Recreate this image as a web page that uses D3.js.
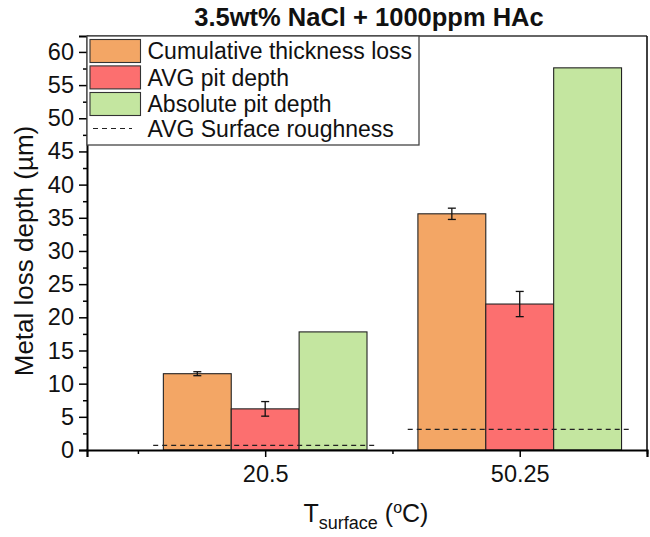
<!DOCTYPE html>
<html>
<head>
<meta charset="utf-8">
<script src="https://cdn.jsdelivr.net/npm/d3@7"></script>
<style>
  html, body { margin: 0; padding: 0; background: #fff; }
  svg { display: block; font-family: "Liberation Sans", Arial, Helvetica, sans-serif; }
</style>
</head>
<body>
<div id="chart"></div>
<script>
// Surface temperatures (categories on the x axis)
const categories = ["20.5", "50.25"];

// Series values (µm)
const cumulativeLoss = [11.5, 35.6];
const cumulativeLossErr = [0.3, 0.85];
const avgPitDepth = [6.2, 22.0];
const avgPitDepthErr = [1.1, 1.9];
const absolutePitDepth = [17.8, 57.6];
const avgRoughness = [0.7, 3.1];

// Axis ticks
const yTicks = [0, 5, 10, 15, 20, 25, 30, 35, 40, 45, 50, 55, 60];
const yMinorTicks = d3.range(2.5, 62.5, 5);

const seriesNames = ["Cumulative thickness loss", "AVG pit depth", "Absolute pit depth"];
const roughnessName = "AVG Surface roughness";
const colors = ["#F3A665", "#FC6F6F", "#C4E6A0"];

const W = 650, H = 537;
const plot = { left: 87, right: 647, top: 36, bottom: 450 };

const svg = d3.select("#chart").append("svg")
  .attr("width", W).attr("height", H);

// Category k sits at position k+1; scale spans 0.3 .. 2.5
const x = d3.scaleLinear().domain([0.3, 2.5]).range([plot.left, plot.right]);
const y = d3.scaleLinear().domain([0, 62.4]).range([plot.bottom, plot.top]);

const groupWidth = 0.8;
const barW = groupWidth / 3;

const series = [
  { values: cumulativeLoss, errs: cumulativeLossErr },
  { values: avgPitDepth, errs: avgPitDepthErr },
  { values: absolutePitDepth, errs: null }
];

// Bars
series.forEach((s, si) => {
  const g = svg.append("g");
  g.selectAll("rect").data(s.values).enter().append("rect")
    .attr("x", (d, i) => x(i + 1 - groupWidth / 2 + si * barW))
    .attr("width", x(barW) - x(0))
    .attr("y", d => y(d))
    .attr("height", d => y(0) - y(d))
    .attr("fill", colors[si])
    .attr("stroke", "#222")
    .attr("stroke-width", 1.1);
});

// Average surface roughness (dashed reference per group)
svg.append("g").selectAll("line").data(avgRoughness).enter().append("line")
  .attr("x1", (d, i) => x(i + 1 - 0.44))
  .attr("x2", (d, i) => x(i + 1 + 0.44))
  .attr("y1", d => y(d)).attr("y2", d => y(d))
  .attr("stroke", "#222").attr("stroke-width", 1.2)
  .attr("stroke-dasharray", "5,4");

// Error bars
series.forEach((s, si) => {
  if (!s.errs) return;
  const g = svg.append("g").attr("stroke", "#111").attr("stroke-width", 1.3);
  s.values.forEach((v, i) => {
    const cx = x(i + 1 - groupWidth / 2 + (si + 0.5) * barW);
    const e = s.errs[i];
    g.append("line").attr("x1", cx).attr("x2", cx).attr("y1", y(v - e)).attr("y2", y(v + e));
    g.append("line").attr("x1", cx - 4).attr("x2", cx + 4).attr("y1", y(v - e)).attr("y2", y(v - e));
    g.append("line").attr("x1", cx - 4).attr("x2", cx + 4).attr("y1", y(v + e)).attr("y2", y(v + e));
  });
});

// Frame: top and right
svg.append("line").attr("x1", plot.left).attr("x2", plot.right)
  .attr("y1", plot.top).attr("y2", plot.top)
  .attr("stroke", "#333").attr("stroke-width", 1.5);
svg.append("line").attr("x1", plot.right).attr("x2", plot.right)
  .attr("y1", plot.top).attr("y2", plot.bottom)
  .attr("stroke", "#111").attr("stroke-width", 1.6);

// Y axis
const yAxis = d3.axisLeft(y).tickValues(yTicks).tickSize(8).tickPadding(5).tickFormat(d3.format("d"));
const gy = svg.append("g").attr("transform", `translate(${plot.left},0)`).call(yAxis);
gy.select(".domain").attr("stroke", "#000").attr("stroke-width", 2);
gy.selectAll(".tick line").attr("stroke", "#000").attr("stroke-width", 1.5);
gy.selectAll(".tick text").attr("font-size", 23.5).attr("fill", "#111")
  .attr("font-family", "Liberation Sans, Arial, sans-serif");
const yMinor = d3.axisLeft(y).tickValues(yMinorTicks).tickSize(4).tickFormat("");
const gym = svg.append("g").attr("transform", `translate(${plot.left},0)`).call(yMinor);
gym.select(".domain").remove();
gym.selectAll(".tick line").attr("stroke", "#000").attr("stroke-width", 1.5);

// X axis
const xAxis = d3.axisBottom(x).tickValues([1, 2]).tickSize(7).tickPadding(8)
  .tickFormat((d) => categories[d - 1]);
const gx = svg.append("g").attr("transform", `translate(0,${plot.bottom})`).call(xAxis);
gx.select(".domain").attr("stroke", "#000").attr("stroke-width", 2.2);
gx.selectAll(".tick line").attr("stroke", "#000").attr("stroke-width", 1.5);
gx.selectAll(".tick text").attr("font-size", 23.5).attr("fill", "#111")
  .attr("font-family", "Liberation Sans, Arial, sans-serif");
const xMinor = d3.axisBottom(x).tickValues([0.5, 1.5, 2.5]).tickSize(4).tickFormat("");
const gxm = svg.append("g").attr("transform", `translate(0,${plot.bottom})`).call(xMinor);
gxm.select(".domain").remove();
gxm.selectAll(".tick line").attr("stroke", "#000").attr("stroke-width", 1.5);

// Title
svg.append("text").attr("x", 369).attr("y", 26)
  .attr("text-anchor", "middle").attr("font-weight", "bold").attr("font-size", 25.5)
  .attr("fill", "#111")
  .text("3.5wt% NaCl + 1000ppm HAc");

// Y label
svg.append("text")
  .attr("transform", "translate(33,251) rotate(-90)")
  .attr("text-anchor", "middle").attr("font-size", 26).attr("fill", "#111")
  .text("Metal loss depth (µm)");

// X label with subscript and superscript
const xl = svg.append("text").attr("x", 366).attr("y", 522)
  .attr("text-anchor", "middle").attr("font-size", 25).attr("fill", "#111");
xl.append("tspan").text("T");
xl.append("tspan").attr("font-size", 18).attr("dy", 7).text("surface");
xl.append("tspan").attr("dy", -7).text(" (");
xl.append("tspan").attr("font-size", 16).attr("dy", -9).text("o");
xl.append("tspan").attr("dy", 9).text("C)");

// Legend
const lg = svg.append("g");
lg.append("rect").attr("x", 87).attr("y", 36).attr("width", 332).attr("height", 109)
  .attr("fill", "#fff").attr("stroke", "#444").attr("stroke-width", 1.3);
const rowY = [51, 77.4, 104, 128.5];
seriesNames.forEach((name, i) => {
  lg.append("rect").attr("x", 90).attr("y", rowY[i] - 11.5).attr("width", 50.5).attr("height", 23)
    .attr("fill", colors[i]).attr("stroke", "#333").attr("stroke-width", 1.1);
  lg.append("text").attr("x", 147.5).attr("y", rowY[i] + 8.3)
    .attr("font-size", 23).attr("fill", "#111").text(name);
});
lg.append("line").attr("x1", 93).attr("x2", 132).attr("y1", rowY[3]).attr("y2", rowY[3])
  .attr("stroke", "#222").attr("stroke-width", 1.2).attr("stroke-dasharray", "5,4");
lg.append("text").attr("x", 147.5).attr("y", rowY[3] + 8.3)
  .attr("font-size", 23).attr("fill", "#111").text(roughnessName);
</script>
</body>
</html>
